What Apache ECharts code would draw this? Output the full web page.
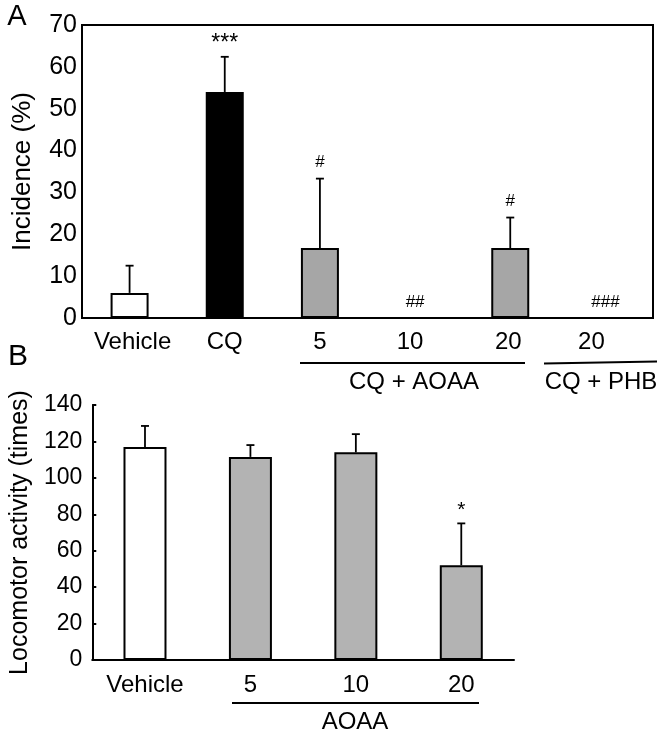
<!DOCTYPE html>
<html><head><meta charset="utf-8">
<script src="https://cdn.jsdelivr.net/npm/echarts@6/dist/echarts.min.js"></script>
<style>html,body{margin:0;padding:0;background:#fff}#c{width:664px;height:740px}</style>
</head><body><div id="c"></div>
<script>
// ---- Data (panel A: incidence %) ----
const catsA = ['Vehicle', 'CQ', '5', '10', '20', '20'];
const valsA = [6, 54, 16.7, 0, 16.7, 0];
const errA = [6.5, 8.4, 16.6, 0, 7.3, 0];
const marksA = ['', '***', '#', '##', '#', '###'];
const yMinA = 0, yMaxA = 70, yStepA = 10;

// ---- Data (panel B: locomotor activity) ----
const catsB = ['Vehicle', '5', '10', '20'];
const valsB = [117, 111.5, 114, 52];
const errB = [11.5, 6.5, 10, 23];
const marksB = ['', '', '', '*'];
const yMinB = 0, yMaxB = 140, yStepB = 20;

// ---- Styles ----
const FONT = '"Liberation Sans", Arial, Helvetica, sans-serif';
const fillA = ['#ffffff', '#000000', '#a6a6a6', '#a6a6a6', '#a6a6a6', '#a6a6a6'];
const fillB = ['#ffffff', '#b3b3b3', '#b3b3b3', '#b3b3b3'];
const labelPadA = [[0,0,0,6], [0,0,0,0], [0,0,0,0], [0,10,0,0], [0,4,0,0], [0,28,0,0]];

function errRender(params, api) {
  const i = api.value(0), v = api.value(1), e = api.value(2);
  if (!e) return null;
  const p0 = api.coord([i, v]);
  const p1 = api.coord([i, v + e]);
  return {
    type: 'group',
    children: [
      { type: 'line', shape: { x1: p0[0], y1: p0[1], x2: p1[0], y2: p1[1] }, style: { stroke: '#000', lineWidth: 1.8 } },
      { type: 'line', shape: { x1: p1[0] - 4, y1: p1[1], x2: p1[0] + 4, y2: p1[1] }, style: { stroke: '#000', lineWidth: 1.8 } }
    ]
  };
}
function markRender(marks) {
  return function (params, api) {
    const m = marks[params.dataIndex];
    if (!m) return null;
    const p = api.coord([api.value(0), api.value(1)]);
    const star = m.indexOf('*') >= 0;
    return {
      type: 'text',
      x: p[0],
      y: p[1] - (star ? 13 : 16),
      style: {
        text: m, fill: '#000', fontFamily: FONT,
        fontSize: star ? (m.length > 1 ? 23 : 21) : 17,
        align: 'center', verticalAlign: 'middle'
      }
    };
  };
}

const chart = echarts.init(document.getElementById('c'), null, { renderer: 'canvas' });
const option = {
  animation: false,
  backgroundColor: '#fff',
  grid: [
    { left: 82, top: 25, width: 571, height: 293, show: true, borderColor: '#000', borderWidth: 2, backgroundColor: 'transparent' },
    { left: 88, top: 405, width: 426, height: 255 }
  ],
  xAxis: [
    {
      type: 'category', gridIndex: 0,
      data: catsA.map((c, i) => ({ value: c, textStyle: { padding: labelPadA[i] } })),
      axisLine: { show: true, lineStyle: { color: '#000', width: 2 } },
      axisTick: { show: false },
      axisLabel: { color: '#000', fontSize: 24, fontFamily: FONT, margin: 12, interval: 0 }
    },
    {
      type: 'category', gridIndex: 1, data: catsB,
      axisLine: { show: true, lineStyle: { color: '#000', width: 2 } },
      axisTick: { show: false },
      axisLabel: { color: '#000', fontSize: 24, fontFamily: FONT, margin: 13, interval: 0 }
    }
  ],
  yAxis: [
    {
      type: 'value', gridIndex: 0, min: yMinA, max: yMaxA, interval: yStepA,
      name: 'Incidence (%)', nameLocation: 'middle', nameGap: 46,
      nameTextStyle: { color: '#000', fontSize: 26, fontFamily: FONT },
      axisLine: { show: true, lineStyle: { color: '#000', width: 2 } },
      axisTick: { show: false },
      splitLine: { show: false },
      axisLabel: { color: '#000', fontSize: 25, fontFamily: FONT, margin: 5 }
    },
    {
      type: 'value', gridIndex: 1, min: yMinB, max: yMaxB, interval: yStepB,
      name: 'Locomotor activity (times)', nameLocation: 'middle', nameGap: 58,
      nameTextStyle: { color: '#000', fontSize: 25, fontFamily: FONT },
      axisLine: { show: true, lineStyle: { color: '#000', width: 2 } },
      axisTick: { show: true, inside: true, length: 4, lineStyle: { color: '#000', width: 2 } },
      splitLine: { show: false },
      axisLabel: { color: '#000', fontSize: 23, fontFamily: FONT, margin: 10 }
    }
  ],
  series: [
    {
      type: 'bar', xAxisIndex: 0, yAxisIndex: 0, barWidth: 38,
      data: valsA.map((v, i) => ({ value: v, itemStyle: { color: fillA[i], borderColor: '#000', borderWidth: 2 } })),
      z: 2
    },
    {
      type: 'custom', xAxisIndex: 0, yAxisIndex: 0, renderItem: errRender,
      data: valsA.map((v, i) => [i, v, errA[i]]), z: 3
    },
    {
      type: 'custom', xAxisIndex: 0, yAxisIndex: 0, renderItem: markRender(marksA),
      data: valsA.map((v, i) => [i, v + errA[i]]), z: 4
    },
    {
      type: 'bar', xAxisIndex: 1, yAxisIndex: 1, barWidth: 43,
      data: valsB.map((v, i) => ({ value: v, itemStyle: { color: fillB[i], borderColor: '#000', borderWidth: 2 } })),
      z: 2
    },
    {
      type: 'custom', xAxisIndex: 1, yAxisIndex: 1, renderItem: errRender,
      data: valsB.map((v, i) => [i, v, errB[i]]), z: 3
    },
    {
      type: 'custom', xAxisIndex: 1, yAxisIndex: 1, renderItem: markRender(marksB),
      data: valsB.map((v, i) => [i, v + errB[i]]), z: 4
    }
  ],
  graphic: [
    { type: 'text', x: 17, y: 17, style: { text: 'A', fontSize: 29, fontFamily: FONT, fill: '#000', align: 'center', verticalAlign: 'middle' } },
    { type: 'text', x: 18, y: 357, style: { text: 'B', fontSize: 30, fontFamily: FONT, fill: '#000', align: 'center', verticalAlign: 'middle' } },
    { type: 'line', shape: { x1: 300, y1: 363, x2: 525, y2: 363 }, style: { stroke: '#000', lineWidth: 2 } },
    { type: 'text', x: 414, y: 382, style: { text: 'CQ + AOAA', fontSize: 24, fontFamily: FONT, fill: '#000', align: 'center', verticalAlign: 'middle' } },
    { type: 'line', shape: { x1: 544, y1: 363.5, x2: 657, y2: 361.5 }, style: { stroke: '#000', lineWidth: 2 } },
    { type: 'text', x: 601, y: 382, style: { text: 'CQ + PHB', fontSize: 24, fontFamily: FONT, fill: '#000', align: 'center', verticalAlign: 'middle' } },
    { type: 'line', shape: { x1: 232, y1: 703, x2: 479, y2: 703 }, style: { stroke: '#000', lineWidth: 2 } },
    { type: 'text', x: 355, y: 722, style: { text: 'AOAA', fontSize: 24, fontFamily: FONT, fill: '#000', align: 'center', verticalAlign: 'middle' } }
  ]
};
chart.setOption(option);
</script>
</body></html>
